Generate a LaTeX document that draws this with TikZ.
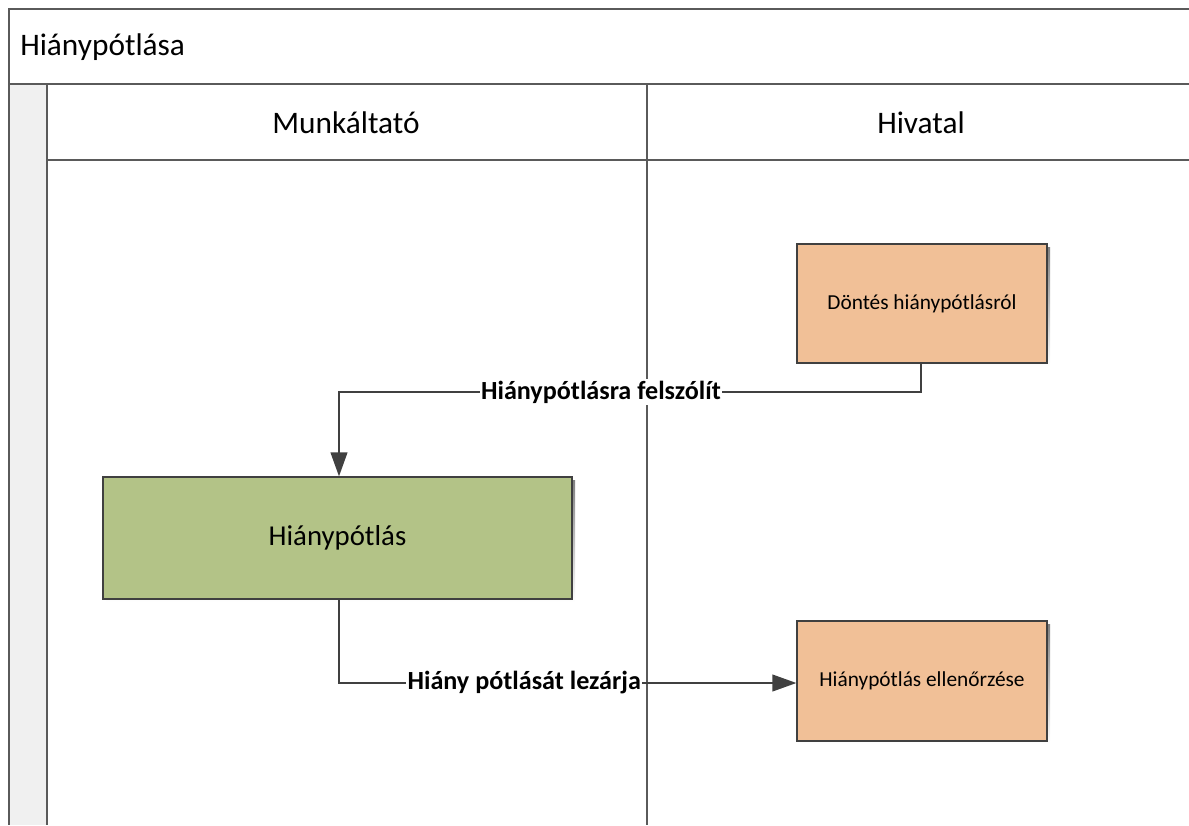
\documentclass[tikz,border=0pt]{standalone}
\usepackage{fontspec}
\setmainfont{Carlito}
\usetikzlibrary{arrows.meta}
\definecolor{frame}{HTML}{5A5A5A}
\definecolor{conn}{HTML}{404040}
\definecolor{strip}{HTML}{F0F0F0}
\definecolor{shade}{HTML}{DCDCDC}
\definecolor{peach}{HTML}{F1C097}
\definecolor{olive}{HTML}{B3C387}
\tikzset{
  px/.style={x=0.75pt,y=-0.75pt},
  laneline/.style={draw=frame,line width=1.4pt},
  headtext/.style={font=\fontsize{23.5pt}{26pt}\selectfont},
  task/.style={draw=conn,line width=0.9pt,minimum width=250*0.75pt,minimum height=119*0.75pt,
    inner sep=0pt,font=\fontsize{16pt}{18pt}\selectfont,text=black},
  flow/.style={draw=conn,line width=1.5pt,-{Triangle[length=18pt,width=12.5pt]}},
  flowlabel/.style={fill=white,inner sep=1pt,font=\fontsize{19.6pt}{22pt}\selectfont\bfseries},
}
\begin{document}
\begin{tikzpicture}[px]
\useasboundingbox (0,0) rectangle (1189,825);
% pool and lanes
\fill[strip] (9,84) rectangle (47,825);
\draw[laneline] (1189,9) -- (9,9) -- (9,825);
\draw[laneline] (9,84) -- (1189,84);
\draw[laneline] (47,84) -- (47,825);
\draw[laneline] (47,160) -- (1189,160);
\draw[laneline] (647,84) -- (647,825);
\node[anchor=west,headtext,inner sep=0pt] (pool) at (20,47) {Hiánypótlása};
\node[headtext] (laneA) at (346,123) {Munkáltató};
\node[headtext] (laneB) at (921,123) {Hivatal};
% shadows
\fill[shade] (800,247) rectangle (1050,366);
\fill[shade] (106,480) rectangle (575,602);
\fill[shade] (800,624) rectangle (1050,744);
% tasks
\node[task,fill=peach] (dontes) at (922,303.5) {Döntés hiánypótlásról};
\node[task,fill=olive,minimum width=469*0.75pt,minimum height=122*0.75pt,
  font=\fontsize{21.6pt}{24pt}\selectfont] (potlas) at (337.5,538) {Hiánypótlás};
\node[task,fill=peach,minimum height=120*0.75pt] (ellenorzes) at (922,681) {Hiánypótlás ellenőrzése};
% connectors
\coordinate (c1) at (921,392);
\coordinate (c2) at (339,392);
\draw[flow] (dontes.south -| c1) -- (c1) -- node[flowlabel,pos=0.55] {Hiánypótlásra felszólít} (c2) -- (potlas.north -| c2);
\coordinate (c3) at (339,683);
\draw[flow] (potlas.south -| c3) -- (c3) -- node[flowlabel,pos=0.405] {Hiány pótlását lezárja} (ellenorzes.west |- c3);
\end{tikzpicture}
\end{document}
